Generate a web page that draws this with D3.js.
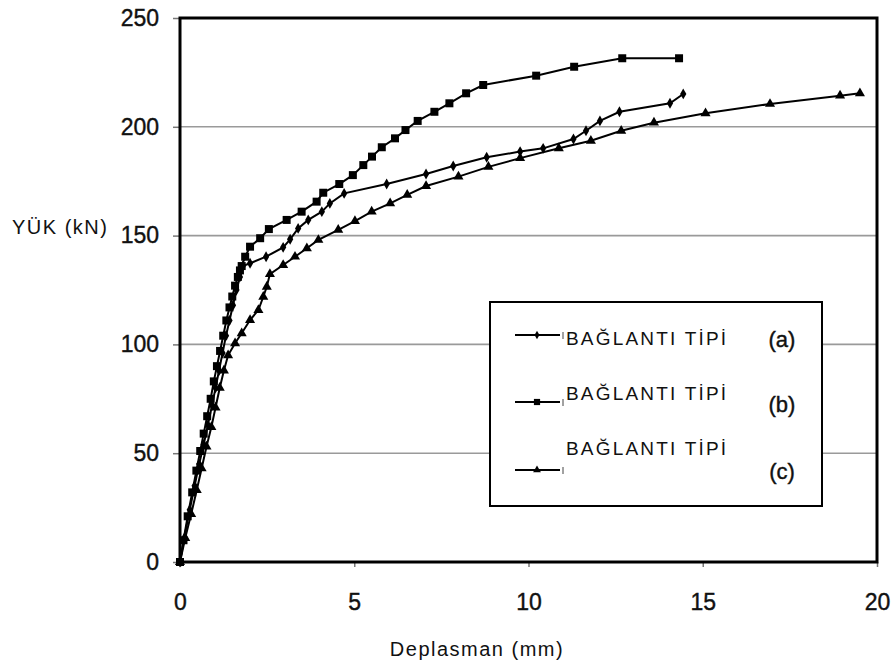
<!DOCTYPE html>
<html>
<head>
<meta charset="utf-8">
<script src="https://cdn.jsdelivr.net/npm/d3@7"></script>
<style>
  body { margin: 0; background: #fff; }
  text { font-family: "Liberation Sans", Arial, sans-serif; fill: #111; }
</style>
</head>
<body>
<div id="chart"></div>
<script>
// ---- data ----
const xTicks = [0, 5, 10, 15, 20];
const yTicks = [0, 50, 100, 150, 200, 250];

const seriesNames = ["BAĞLANTI TİPİ", "BAĞLANTI TİPİ", "BAĞLANTI TİPİ"];
const seriesTags = ["(a)", "(b)", "(c)"];

// tip (a) - small diamonds
const aX = [0, 0.12, 0.28, 0.42, 0.55, 0.68, 0.8, 0.92, 1.02, 1.12, 1.22, 1.32, 1.42, 1.52, 1.62, 1.72, 1.8, 2.01, 2.47, 2.96, 3.16, 3.39, 3.68, 4.07, 4.30, 4.71, 5.93, 7.06, 7.84, 8.8, 9.76, 10.42, 11.29, 11.65, 12.05, 12.61, 14.06, 14.44];
const aY = [0, 11, 24, 35, 45, 54, 63, 72, 80, 88, 96, 104, 111, 118, 125, 131, 136, 137.3, 140.3, 144.6, 148.3, 153.3, 157.2, 161, 164.8, 169.4, 173.7, 178.3, 182, 186, 188.6, 190.1, 194.4, 198.2, 202.7, 206.9, 210.8, 215.1];

// tip (b) - squares
const bX = [0, 0.1, 0.22, 0.35, 0.47, 0.58, 0.68, 0.78, 0.88, 0.97, 1.06, 1.15, 1.24, 1.33, 1.42, 1.5, 1.58, 1.66, 1.72, 1.77, 1.87, 2.01, 2.30, 2.55, 3.06, 3.49, 3.92, 4.11, 4.57, 4.96, 5.26, 5.51, 5.79, 6.17, 6.47, 6.82, 7.30, 7.73, 8.21, 8.70, 10.22, 11.31, 12.69, 14.32];
const bY = [0, 10, 21, 32, 42, 51, 59, 67, 75, 83, 90, 97, 104, 111, 117, 122, 127, 131, 134, 136, 140.3, 144.9, 148.8, 153, 157.2, 161, 165.6, 169.7, 173.7, 177.8, 182.4, 186.3, 190.6, 194.7, 198.5, 202.7, 206.9, 210.8, 215.4, 219.2, 223.5, 227.6, 231.5, 231.5];

// tip (c) - triangles
const cX = [0, 0.15, 0.32, 0.48, 0.62, 0.76, 0.9, 1.02, 1.14, 1.26, 1.38, 1.58, 1.77, 2.01, 2.25, 2.39, 2.49, 2.58, 2.96, 3.30, 3.64, 3.97, 4.54, 5.02, 5.50, 6.03, 6.52, 7.06, 7.99, 8.85, 9.76, 10.87, 11.79, 12.66, 13.60, 15.08, 16.93, 18.94, 19.51];
const cY = [0, 11, 22, 33, 43, 53, 62, 71, 80, 88, 95, 100.5, 105.1, 111.2, 115.8, 121.9, 126.5, 132.3, 136.5, 140.3, 144.2, 148, 152.6, 156.7, 161, 164.8, 168.7, 172.8, 177.1, 181.6, 185.6, 190.1, 193.6, 198.2, 201.9, 206.2, 210.5, 214.3, 215.4];

// ---- layout ----
const width = 894, height = 665;
const margin = { top: 18, right: 17, bottom: 103, left: 180 };
const innerW = width - margin.left - margin.right;
const innerH = height - margin.top - margin.bottom;

const svg = d3.select("#chart").append("svg")
  .attr("width", width)
  .attr("height", height);

svg.append("rect").attr("width", width).attr("height", height).attr("fill", "#fff");

const g = svg.append("g")
  .attr("transform", `translate(${margin.left},${margin.top})`);

const x = d3.scaleLinear().domain([0, 20]).range([0, innerW]);
const y = d3.scaleLinear().domain([0, 250]).range([innerH, 0]);

// gridlines
g.selectAll(".grid")
  .data(yTicks.filter(d => d > 0 && d < 250))
  .enter()
  .append("line")
  .attr("class", "grid")
  .attr("x1", 0)
  .attr("x2", innerW)
  .attr("y1", d => y(d))
  .attr("y2", d => y(d))
  .style("stroke", "#9a9a9a")
  .style("stroke-width", 1.6);

// axes
const yAxis = g.append("g")
  .call(d3.axisLeft(y).tickValues(yTicks).tickSize(7).tickPadding(14));
yAxis.select(".domain").remove();
yAxis.selectAll("line").style("stroke", "#777").style("stroke-width", 1.5);
yAxis.selectAll("text")
  .style("font-size", "23px")
  .style("fill", "#111")
  .style("stroke", "#111")
  .style("stroke-width", 0.4);

const xAxis = g.append("g")
  .attr("transform", `translate(0,${innerH})`)
  .call(d3.axisBottom(x).tickValues(xTicks).tickSize(5).tickPadding(27));
xAxis.select(".domain").remove();
xAxis.selectAll("line").style("stroke", "#777").style("stroke-width", 1.5);
xAxis.selectAll("text")
  .style("font-size", "23px")
  .style("fill", "#111")
  .style("stroke", "#111")
  .style("stroke-width", 0.4);

// plot frame
g.append("rect")
  .attr("x", 0)
  .attr("y", 0)
  .attr("width", innerW)
  .attr("height", innerH)
  .style("fill", "none")
  .style("stroke", "#000")
  .style("stroke-width", 3);

// axis titles
svg.append("text")
  .attr("x", 12)
  .attr("y", 234)
  .style("font-size", "20px")
  .style("letter-spacing", "1.5px")
  .text("YÜK (kN)");

svg.append("text")
  .attr("x", 477)
  .attr("y", 656)
  .attr("text-anchor", "middle")
  .style("font-size", "20px")
  .style("letter-spacing", "1.5px")
  .text("Deplasman (mm)");

// ---- series ----
const series = [
  { xs: aX, ys: aY, symbol: d3.symbolDiamond, size: 34 },
  { xs: bX, ys: bY, symbol: d3.symbolSquare, size: 64 },
  { xs: cX, ys: cY, symbol: d3.symbolTriangle, size: 44 }
];

const line = d3.line()
  .x(d => x(d[0]))
  .y(d => y(d[1]));

series.forEach(function (s) {
  const pts = s.xs.map((v, i) => [v, s.ys[i]]);
  g.append("path")
    .datum(pts)
    .attr("d", line)
    .style("fill", "none")
    .style("stroke", "#000")
    .style("stroke-width", 2);
  g.selectAll(null)
    .data(pts)
    .enter()
    .append("path")
    .attr("transform", d => `translate(${x(d[0])},${y(d[1])})`)
    .attr("d", d3.symbol().type(s.symbol).size(s.size))
    .style("fill", "#000");
});

// ---- legend ----
const legend = svg.append("g").attr("transform", "translate(490,302)");
legend.append("rect")
  .attr("width", 332)
  .attr("height", 204)
  .style("fill", "#fff")
  .style("stroke", "#000")
  .style("stroke-width", 2);

const legLineY = [33, 100, 168];
const legTextY = [43, 98, 153];
const legTagY = [45, 110, 177];

series.forEach(function (s, i) {
  legend.append("line")
    .attr("x1", 25).attr("x2", 70)
    .attr("y1", legLineY[i]).attr("y2", legLineY[i])
    .style("stroke", "#000")
    .style("stroke-width", 2);
  legend.append("path")
    .attr("transform", `translate(47,${legLineY[i]})`)
    .attr("d", d3.symbol().type(s.symbol).size(s.size * 0.6))
    .style("fill", "#000");
  legend.append("line")
    .attr("x1", 73).attr("x2", 73)
    .attr("y1", legLineY[i] - 3).attr("y2", legLineY[i] + 4)
    .style("stroke", "#444")
    .style("stroke-width", 1);
  legend.append("text")
    .attr("x", 76)
    .attr("y", legTextY[i])
    .style("font-size", "19px")
    .style("letter-spacing", "2.2px")
    .text(seriesNames[i]);
  legend.append("text")
    .attr("x", 292)
    .attr("y", legTagY[i])
    .attr("text-anchor", "middle")
    .style("font-size", "22px")
    .style("stroke", "#111")
    .style("stroke-width", 0.4)
    .text(seriesTags[i]);
});
</script>
</body>
</html>
